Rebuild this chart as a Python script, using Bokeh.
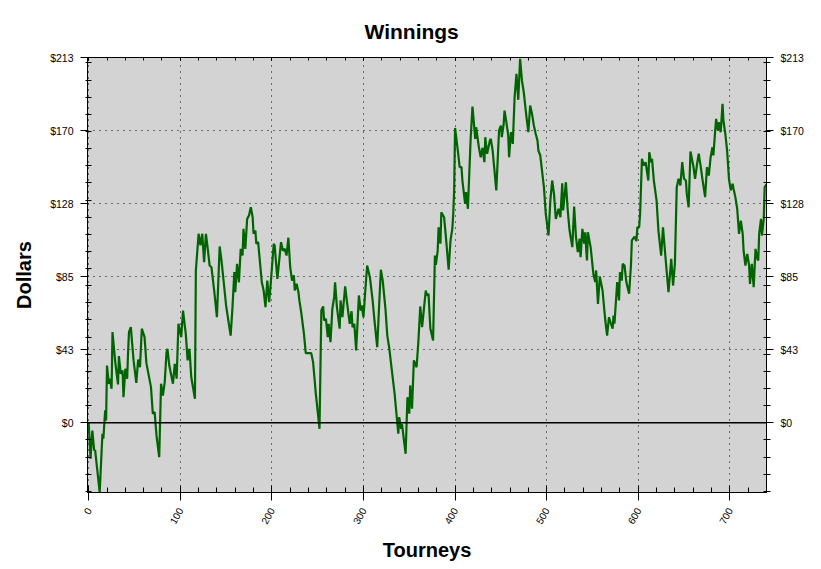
from bokeh.plotting import figure
from bokeh.models import LinearAxis, FixedTicker, Range1d, Span
from bokeh.embed import file_html
from bokeh.resources import INLINE

# ---- data: cumulative winnings (dollars) by tourney number ----
tourneys_a = [0, 2, 4, 6, 7, 12, 15, 16, 18, 19, 20, 22, 23, 25, 26, 29, 32, 33, 35, 37,
              38, 40, 42, 43, 44, 46, 49, 52, 54, 56, 58, 61, 63, 68, 70, 72, 74, 77, 79, 81,
              83, 85, 86, 88, 92, 94, 96, 98, 101, 103, 106, 108, 110, 112, 116, 117, 120, 122, 124, 126]
dollars_a = [0, -21.0, -4.5, -16.2, -15.8, -40.5, -6.4, -9.3, 7.2, 1.3, 33.4, 22.8, 25.7, 19.8, 52.9, 35.4, 22.4, 38.9, 28.6, 30.5,
             14.9, 31.5, 25.7, 41.2, 52.9, 55.8, 36.4, 23.3, 36.9, 32.4, 54.9, 50.0, 34.8, 20.8, 5.3, 6.2, -7.4, -20.1, 22.8, 15.9,
             23.7, 41.2, 43.2, 33.4, 22.8, 34.4, 25.7, 57.8, 50.0, 65.5, 51.9, 36.4, 43.2, 26.6, 14.0, 88.9, 110.3, 103.5, 110.3, 93.7]

tourneys_b = [128, 130, 132, 134, 137, 140, 143, 145, 148, 150, 153, 155, 157, 159, 160, 162, 164, 166, 168, 169,
              171, 173, 175, 177, 179, 180, 182, 183, 185, 189, 191, 193, 195, 197, 199, 202, 203, 206, 210, 212,
              214, 216, 218, 220, 222, 224, 225, 227, 229, 230, 232, 235, 237, 243, 245, 248]
dollars_b = [110.3, 101.5, 91.8, 90.8, 77.2, 61.6, 102.9, 94.7, 79.1, 68.5, 57.8, 50.9, 67.5, 87.9, 76.2, 92.8, 82.0, 101.5, 97.6, 113.2,
             101.5, 119.0, 121.0, 125.8, 120.0, 110.3, 112.2, 104.5, 105.4, 82.0, 77.2, 67.5, 83.0, 70.4, 83.0, 104.5, 103.5, 84.0, 105.4, 100.5,
             101.5, 97.6, 108.0, 90.8, 83.0, 86.0, 77.2, 81.1, 76.2, 71.4, 64.5, 51.9, 40.6, 40.6, 35.4, 16.9]

tourneys_c = [252, 254, 256, 257, 259, 261, 262, 264, 266, 268, 269, 271, 274, 275, 277, 280, 282, 285, 287, 288,
              290, 292, 295, 297, 298, 300, 302, 304, 307, 310, 312, 315, 317, 319, 321, 324, 326, 328, 331, 334,
              338, 339, 341, 342, 346, 348, 350, 351, 353, 355, 358, 360, 362, 364, 366, 368]
dollars_c = [-3.5, 65.5, 67.9, 59.7, 60.7, 50.0, 57.8, 47.0, 66.5, 73.3, 82.0, 67.5, 54.9, 71.4, 61.6, 79.6, 70.4, 57.8, 65.1, 55.8,
             57.8, 42.2, 74.3, 65.5, 68.5, 61.6, 77.2, 91.8, 85.0, 71.4, 59.7, 44.1, 67.5, 89.3, 83.0, 66.5, 50.9, 44.1, 30.5, 16.9,
             -6.4, 3.3, -3.5, -0.6, -18.1, 14.9, 5.3, 21.8, 8.2, 36.4, 32.4, 48.0, 67.9, 55.8, 66.5, 77.2]

tourneys_d = [369, 371, 373, 376, 378, 379, 381, 382, 384, 385, 388, 390, 393, 395, 397, 398, 399, 400, 403, 405,
              407, 408, 411, 412, 414, 417, 419, 422, 423, 426, 428, 430, 432, 433, 435, 438, 439, 441, 445, 448,
              450, 451, 453, 454, 456, 458, 459, 461, 463, 465, 467, 469, 471, 473, 475, 478, 480]
dollars_d = [74.3, 75.3, 55.0, 48.0, 97.6, 92.1, 100.3, 114.1, 104.5, 122.9, 120.0, 108.3, 89.3, 106.4, 113.2, 122.0, 135.6, 172.1, 158.9, 149.2,
             149.2, 141.4, 127.8, 134.6, 124.9, 165.7, 184.6, 165.7, 172.5, 160.8, 155.0, 160.5, 152.1, 166.7, 157.0, 164.7, 165.7, 158.9, 135.6, 170.6,
             173.5, 166.7, 174.1, 182.2, 175.4, 167.7, 155.0, 169.6, 162.8, 190.0, 203.7, 188.5, 212.4, 199.8, 192.9, 178.3, 169.6]

tourneys_e = [482, 484, 486, 488, 490, 491, 493, 497, 499, 502, 504, 506, 508, 510, 513, 515, 517, 518, 521, 523,
              525, 528, 530, 532, 534, 536, 537, 539, 541, 542, 544, 545, 548, 551, 553, 554, 556, 558, 561, 564,
              566, 568, 570, 572, 573, 574, 577, 579, 580, 582, 583, 585, 587, 590, 592, 593, 596, 598, 599, 601,
              602, 603, 604, 606, 608]
dollars_e = [185.2, 180.3, 173.5, 168.7, 164.7, 158.9, 156.0, 137.5, 122.0, 109.3, 129.7, 141.4, 133.6, 119.0, 124.9, 120.0, 139.8, 123.9, 140.4, 123.9,
             112.2, 102.5, 126.2, 108.3, 99.6, 107.4, 96.6, 113.2, 104.5, 111.2, 94.7, 111.2, 102.5, 86.9, 82.1, 88.9, 69.4, 85.4, 77.2, 59.7,
             50.9, 61.6, 58.1, 54.9, 62.6, 57.8, 82.1, 71.4, 87.9, 83.0, 92.8, 91.8, 82.1, 75.3, 91.8, 106.4, 108.7, 106.0, 114.1, 114.1,
             122.0, 137.5, 154.1, 150.2, 152.1]

tourneys_f = [611, 612, 614, 615, 617, 620, 622, 625, 627, 630, 633, 636, 638, 640, 642, 644, 646, 648, 650, 652,
              653, 655, 657, 660, 662, 664, 666, 668, 670, 673, 675, 677, 679, 681, 682, 684, 685, 687, 688, 690,
              692, 693, 695, 697, 699, 701, 703, 704, 706, 708, 710, 712, 714, 715, 717, 719, 721, 722, 724, 726,
              728, 730, 731, 732, 734, 735, 737, 738, 740]
dollars_f = [141.4, 157.9, 152.1, 154.1, 141.4, 129.7, 112.2, 97.6, 114.1, 94.7, 76.2, 95.7, 80.1, 92.8, 137.5, 142.4, 138.5, 152.1, 142.4, 141.4,
             133.6, 125.8, 158.3, 150.2, 142.4, 150.2, 157.0, 150.2, 142.4, 131.7, 149.2, 144.3, 155.0, 160.8, 156.0, 170.6, 177.4, 170.6, 175.4, 169.6,
             186.2, 176.4, 168.7, 158.9, 142.4, 135.6, 139.5, 136.6, 131.7, 124.9, 110.3, 118.0, 110.3, 100.5, 91.8, 98.6, 91.8, 81.1, 92.8, 79.1,
             101.5, 95.7, 94.7, 110.3, 119.0, 109.3, 119.0, 137.5, 139.1]

tourneys = tourneys_a + tourneys_b + tourneys_c + tourneys_d + tourneys_e + tourneys_f
dollars = dollars_a + dollars_b + dollars_c + dollars_d + dollars_e + dollars_f

# ---- ticks ----
y_major = [0, 42.6, 85.2, 127.8, 170.4, 213]
y_labels = ["$0", "$43", "$85", "$128", "$170", "$213"]
y_minor = list(range(-40, 211, 10))
x_major = [0, 100, 200, 300, 400, 500, 600, 700]
x_labels = ["0", "100", "200", "300", "400", "500", "600", "700"]
x_minor = list(range(0, 741, 20))

FONT = "Liberation Sans"

p = figure(width=821, height=569, output_backend="svg", toolbar_location=None,
           x_range=Range1d(-1.3, 740), y_range=Range1d(-40.7, 213.2),
           min_border_left=87, min_border_right=55, min_border_top=57, min_border_bottom=77)

p.background_fill_color = "#d3d3d3"
p.border_fill_color = "white"
p.outline_line_color = "black"
p.outline_line_width = 1

p.title.text = "Winnings"
p.title.text_font = FONT
p.title.text_font_size = "21px"
p.title.text_font_style = "bold"
p.title.text_color = "black"
p.title.align = "left"
p.title.offset = 277
p.title.standoff = 29


def style_axis(ax, ticker, overrides):
    ax.ticker = ticker
    ax.major_label_overrides = overrides
    ax.axis_line_color = "black"
    ax.axis_line_width = 1
    ax.major_tick_line_color = "black"
    ax.minor_tick_line_color = "black"
    ax.major_label_text_font = FONT
    ax.major_label_text_font_size = "10.5px"
    ax.major_label_text_color = "black"
    ax.axis_label_text_font = FONT
    ax.axis_label_text_font_size = "20px"
    ax.axis_label_text_font_style = "bold"
    ax.axis_label_text_color = "black"


yt = FixedTicker(ticks=y_major, minor_ticks=y_minor)
xt = FixedTicker(ticks=x_major, minor_ticks=x_minor)
ylab = dict(zip(y_major, y_labels))
xlab = dict(zip(x_major, x_labels))

# left
ly = p.yaxis[0]
style_axis(ly, yt, ylab)
ly.axis_label = "Dollars"
ly.major_tick_out = 7
ly.major_tick_in = 0
ly.minor_tick_out = 2
ly.minor_tick_in = 4
ly.major_label_standoff = 7
ly.axis_label_standoff = 12

# bottom
bx = p.xaxis[0]
style_axis(bx, xt, xlab)
bx.axis_label = "Tourneys"
bx.major_tick_out = 8
bx.major_tick_in = 7
bx.minor_tick_out = 0
bx.minor_tick_in = 5
bx.major_label_standoff = 8
bx.major_label_orientation = 1.05
bx.major_label_text_font_size = "10px"
bx.axis_label_standoff = 9

# right
ry = LinearAxis()
style_axis(ry, FixedTicker(ticks=y_major, minor_ticks=y_minor), ylab)
ry.major_tick_out = 7
ry.major_tick_in = 0
ry.minor_tick_out = 4
ry.minor_tick_in = 3
ry.major_label_standoff = 7
p.add_layout(ry, "right")

# top (ticks only)
tx = LinearAxis()
style_axis(tx, FixedTicker(ticks=x_major, minor_ticks=x_minor), {v: "" for v in x_major})
tx.major_tick_out = 0
tx.major_tick_in = 3
tx.minor_tick_out = 0
tx.minor_tick_in = 3
tx.major_label_standoff = 0
tx.major_label_text_font_size = "0px"
p.add_layout(tx, "above")

# grid
p.xgrid.ticker = FixedTicker(ticks=x_major)
p.ygrid.ticker = FixedTicker(ticks=y_major)
for g in (p.xgrid[0], p.ygrid[0]):
    g.grid_line_color = "black"
    g.grid_line_width = 1
    g.grid_line_dash = "1 5"

p.add_layout(Span(location=0, dimension="width", line_color="black", line_width=1.5))

p.line(tourneys, dollars, line_color="#006400", line_width=2.2)

open("out.html", "w").write(file_html(p, INLINE))
